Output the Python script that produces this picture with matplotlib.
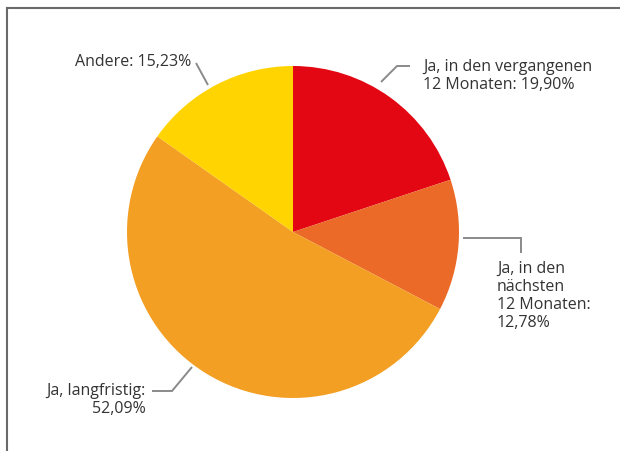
import matplotlib
matplotlib.use("Agg")
import matplotlib.pyplot as plt
from matplotlib.lines import Line2D
import numpy as np

# Data
categories = ["Ja, in den vergangenen 12 Monaten", "Ja, in den nächsten 12 Monaten",
              "Ja, langfristig", "Andere"]
values = [19.90, 12.78, 52.09, 15.23]
labels = ["Ja, in den vergangenen\n12 Monaten: 19,90%",
          "Ja, in den\nnächsten\n12 Monaten:\n12,78%",
          "Ja, langfristig:\n52,09%",
          "Andere: 15,23%"]
colors = ["#E30613", "#EB6A27", "#F39F24", "#FFD400"]

W, H = 620, 451
fig = plt.figure(figsize=(W / 100, H / 100), dpi=100)
fig.patch.set_facecolor("white")

cx, cy, R = 293, 232, 166  # pixel centre / radius
ax = fig.add_axes([0, 0, 1, 1])

ax.pie(values, colors=colors, startangle=90, counterclock=False, radius=1.0,
       wedgeprops=dict(linewidth=0))
ax.set_xlim(-cx / R, (W - cx) / R)
ax.set_ylim(-(H - cy) / R, cy / R)
ax.set_aspect("equal")
ax.axis("off")

plt.rcParams['font.family'] = ['Open Sans', 'DejaVu Sans']
tc = "#333333"
lc = "#8a8a8a"
fs = 11.5

def px(x, y):
    return ((x - cx) / R, (cy - y) / R)

# leader lines (pixel layout)
leaders = [
    [(381, 82), (397, 66), (410, 66)],
    [(463, 238), (521, 238), (521, 253)],
    [(192, 367), (172, 391), (152, 391)],
    [(208, 85), (196, 63)],
]
for pts in leaders:
    d = [px(*p) for p in pts]
    ax.plot([p[0] for p in d], [p[1] for p in d], color=lc, lw=1.4,
            solid_capstyle="butt", solid_joinstyle="miter")

ls = 1.15
x, y = px(423, 76)
ax.text(x, y, labels[0], ha="left", va="center", fontsize=fs, color=tc, linespacing=ls)
x, y = px(497, 296)
ax.text(x, y, labels[1], ha="left", va="center", fontsize=fs, color=tc, linespacing=ls)
x, y = px(146, 400)
ax.text(x, y, labels[2], ha="right", va="center", fontsize=fs, color=tc, linespacing=ls,
        multialignment="right")
x, y = px(191, 62)
ax.text(x, y, labels[3], ha="right", va="center", fontsize=fs, color=tc, linespacing=ls)

# frame lines (top and left)
fc = "#6a6a6a"
fig.add_artist(Line2D([7 / W, 1], [1 - 7.5 / H, 1 - 7.5 / H], color=fc, lw=1.5,
                      transform=fig.transFigure))
fig.add_artist(Line2D([7 / W, 7 / W], [1 - 7.5 / H, 0], color=fc, lw=1.5,
                      transform=fig.transFigure))

fig.savefig("out.png", dpi=100)
